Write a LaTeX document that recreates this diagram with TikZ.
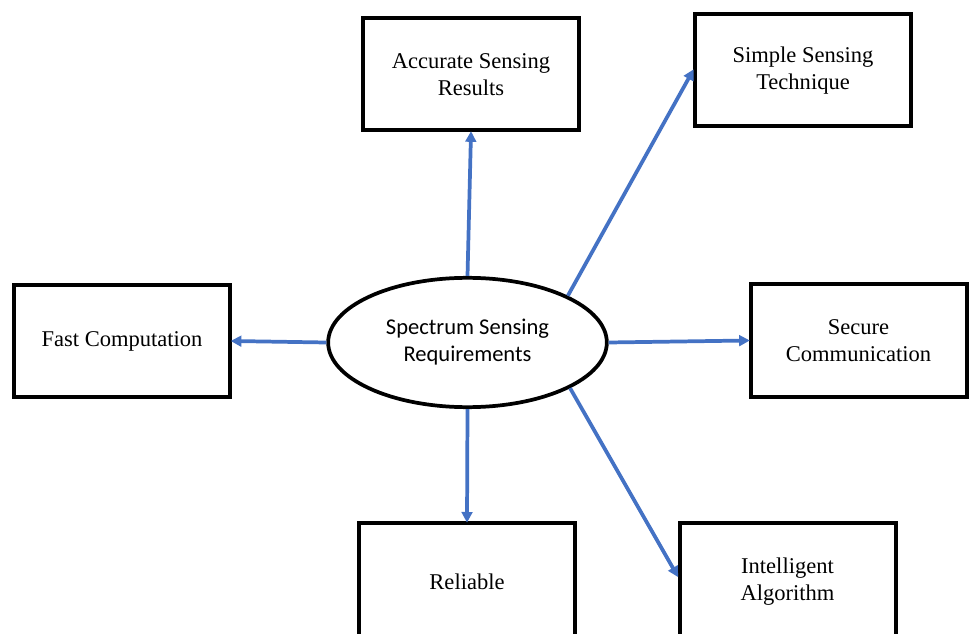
\documentclass[tikz,border=0pt]{standalone}
\usepackage{fontspec}
\setmainfont{Liberation Serif}
\newfontfamily\calfont{Carlito}
\usetikzlibrary{arrows.meta,shapes.geometric}
\definecolor{arrowblue}{HTML}{4472C4}
\tikzset{
  boxnode/.style={draw=black, line width=3pt, fill=white, minimum width=162pt, minimum height=84pt,
    align=center, font=\fontsize{16.9}{20.3}\selectfont, inner sep=0pt},
  ellnode/.style={ellipse, draw=black, line width=2.8pt, fill=white, minimum width=209pt, minimum height=97pt,
    align=center, font=\calfont\fontsize{16.9}{20.3}\selectfont, inner sep=0pt},
  link/.style={draw=arrowblue, line width=2.8pt, -{Triangle[length=8pt,width=8pt]}, shorten >=-1pt}
}
\begin{document}
\begin{tikzpicture}[x=0.75pt,y=-0.75pt]
\useasboundingbox (0,0) rectangle (970,634);
\clip (0,0) rectangle (970,634);
\node[boxnode] (acc) at (471,74.5) {Accurate Sensing\\Results};
\node[boxnode] (simple) at (803,70.5) {Simple Sensing\\Technique};
\node[boxnode] (fast) at (122,341) {Fast Computation};
\node[boxnode] (sec) at (858.5,340.5) {Secure\\Communication};
\node[boxnode, minimum height=88pt] (rel) at (467,582) {Reliable};
\node[boxnode, minimum height=88pt] (intel) at (787.5,582) {Intelligent\\Algorithm};
\node[ellnode] (ell) at (467.5,342.5) {Spectrum Sensing\\Requirements};
\coordinate (intelin) at ([yshift=-41pt]intel.north west);
\draw[link] (ell.north) -- (acc.south);
\draw[link] (ell.25) -- (simple.west);
\draw[link] (ell.west) -- (fast.east);
\draw[link] (ell.east) -- (sec.west);
\draw[link] (ell.south) -- (rel.north);
\draw[link] (ell.-24) -- (intelin);
\end{tikzpicture}
\end{document}
